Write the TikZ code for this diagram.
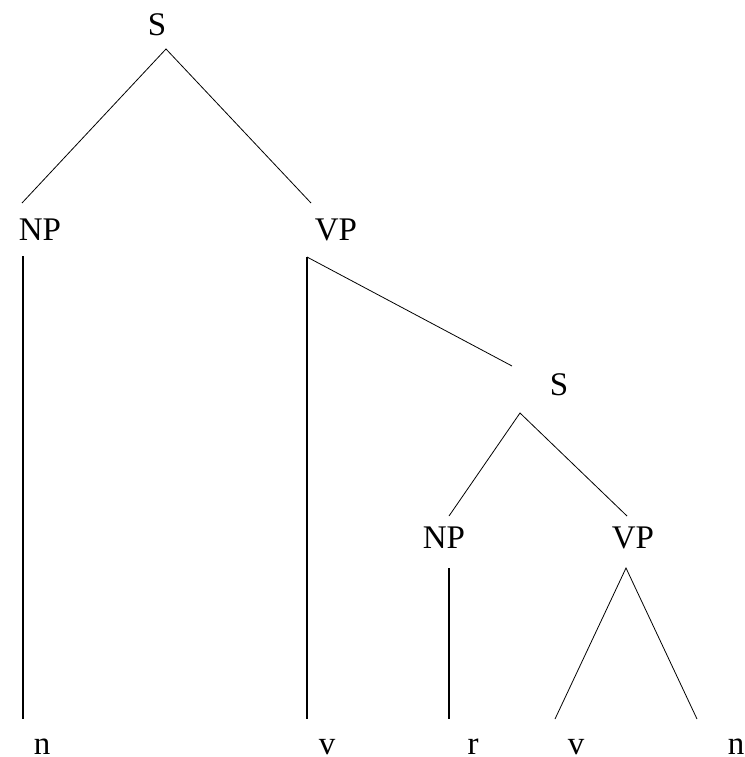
\documentclass[tikz,border=0pt]{standalone}
\usepackage{fontspec}
\setmainfont{Liberation Serif}
\usetikzlibrary{positioning}
\tikzstyle{cat} = [inner sep=0pt, 
			font=\fontsize{33}{38}\selectfont]
\tikzstyle{branch} = [line width=0.8pt]
\tikzstyle{trunk} = [line width=1.3pt]

\begin{document}
\begin{tikzpicture}[x=1pt, y=-1pt]
	\useasboundingbox (0,0) rectangle (744,757);
	% category labels
	\node [cat] (s) at (157,25) {S};
	\node [cat] (np) at (40,230) {NP};
	\node [cat] (vp) at (336,230) {VP};
	\node [cat] (s2) at (559,385) {S};
	\node [cat] (np2) at (444,538) {NP};
	\node [cat] (vp2) at (633,538) {VP};
	% leaves
	\node [cat] (n1) at (42,747) {n};
	\node [cat] (v1) at (327,747) {v};
	\node [cat] (r1) at (473,747) {r};
	\node [cat] (v2) at (576,747) {v};
	\node [cat] (n2) at (736,747) {n};
	% branch ends
	\coordinate (s-foot) at (166,49);
	\coordinate (np-head) at (22,203);
	\coordinate (vp-head) at (311,203);
	\coordinate (np-foot) at (23,256);
	\coordinate (vp-foot) at (307,257);
	\coordinate (s2-head) at (512,366);
	\coordinate (s2-foot) at (520,413);
	\coordinate (np2-head) at (449,516);
	\coordinate (vp2-head) at (627,516);
	\coordinate (np2-foot) at (449,568);
	\coordinate (vp2-foot) at (626,568);
	\coordinate (n1-head) at (23,719);
	\coordinate (v1-head) at (307,719);
	\coordinate (r1-head) at (449,719);
	\coordinate (v2-head) at (555,719);
	\coordinate (n2-head) at (697,719);
	\draw [branch] (np-head) -- (s-foot) -- (vp-head);
	\draw [trunk] (np-foot) -- (n1-head);
	\draw [trunk] (vp-foot) -- (v1-head);
	\draw [branch] (vp-foot) -- (s2-head);
	\draw [branch] (np2-head) -- (s2-foot) -- (vp2-head);
	\draw [trunk] (np2-foot) -- (r1-head);
	\draw [branch] (v2-head) -- (vp2-foot) -- (n2-head);
\end{tikzpicture}
\end{document}
